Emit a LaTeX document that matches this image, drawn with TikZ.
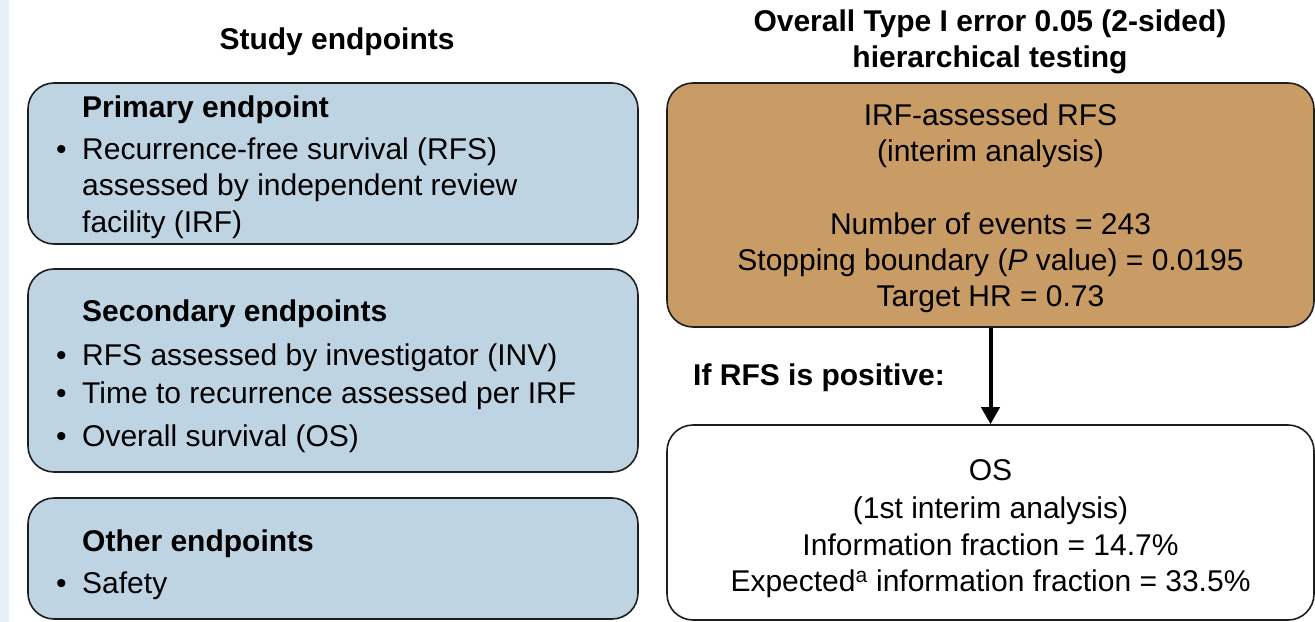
\documentclass[tikz,border=0pt]{standalone}
\usepackage{fontspec}
\setmainfont{Liberation Sans}
\usetikzlibrary{arrows.meta}
\definecolor{boxblue}{RGB}{190,212,227}
\definecolor{boxorange}{RGB}{201,155,101}
\definecolor{stripcol}{RGB}{232,238,245}
\definecolor{edgecol}{RGB}{30,30,30}
\begin{document}
\begin{tikzpicture}[x=1bp,y=-1bp,
  panel/.style={draw=edgecol, line width=1.6bp, rounded corners=26bp, inner sep=0pt},
  txt/.style={anchor=base, inner sep=0pt, font=\fontsize{30bp}{36bp}\selectfont},
  ltxt/.style={txt, anchor=base west},
  btxt/.style={txt, font=\fontsize{30bp}{36bp}\selectfont\bfseries},
  bltxt/.style={btxt, anchor=base west},
  flow/.style={-{Triangle[length=17bp,width=18bp]}, line width=4bp, draw=black}
]
\useasboundingbox (0,0) rectangle (1315,622);
\fill[stripcol] (0,0) rectangle (9,622);

% titles
\node[btxt] (t1) at (337,50) {Study endpoints};
\node[btxt] (t2) at (990,32) {Overall Type I error 0.05 (2-sided)};
\node[btxt] (t3) at (990,68) {hierarchical testing};

% left panels
\node[panel, fill=boxblue, minimum width=610bp, minimum height=161bp] (prim) at (333,163.5) {};
\node[panel, fill=boxblue, minimum width=610bp, minimum height=203bp] (sec) at (333,370.5) {};
\node[panel, fill=boxblue, minimum width=610bp, minimum height=121bp] (oth) at (333,558.5) {};

\node[bltxt] (p0) at (82,118) {Primary endpoint};
\node[ltxt] (pb1) at (56,160) {•};
\node[ltxt] (p1) at (82,160) {Recurrence-free survival (RFS)};
\node[ltxt] (p2) at (82,196) {assessed by independent review};
\node[ltxt] (p3) at (82,232) {facility (IRF)};

\node[bltxt] (s0) at (82,321) {Secondary endpoints};
\node[ltxt] (sb1) at (56,365) {•};
\node[ltxt] (s1) at (82,365) {RFS assessed by investigator (INV)};
\node[ltxt] (sb2) at (56,403) {•};
\node[ltxt] (s2) at (82,403) {Time to recurrence assessed per IRF};
\node[ltxt] (sb3) at (56,446) {•};
\node[ltxt] (s3) at (82,446) {Overall survival (OS)};

\node[bltxt] (o0) at (82,551) {Other endpoints};
\node[ltxt] (ob1) at (56,593) {•};
\node[ltxt] (o1) at (82,593) {Safety};

% right panels
\node[panel, fill=boxorange, minimum width=647bp, minimum height=244bp] (rfs) at (990.5,205) {};
\node[txt] (r1) at (990.5,126) {IRF-assessed RFS};
\node[txt] (r2) at (990.5,162) {(interim analysis)};
\node[txt] (r3) at (990.5,234) {Number of events = 243};
\node[txt] (r4) at (990.5,270) {Stopping boundary (\textit{P} value) = 0.0195};
\node[txt] (r5) at (990.5,306) {Target HR = 0.73};

\node[bltxt] (cond) at (693,385) {If RFS is positive:};

\node[panel, fill=white, minimum width=647bp, minimum height=195bp] (os) at (990.5,522.5) {};
\node[txt] (w1) at (990.5,480) {OS};
\node[txt] (w2) at (990.5,518) {(1st interim analysis)};
\node[txt] (w3) at (990.5,555) {Information fraction = 14.7\%};
\node[txt] (w4) at (990.5,591) {Expected\textsuperscript{a} information fraction = 33.5\%};

\draw[flow] (rfs.south) -- (os.north);
\end{tikzpicture}
\end{document}
